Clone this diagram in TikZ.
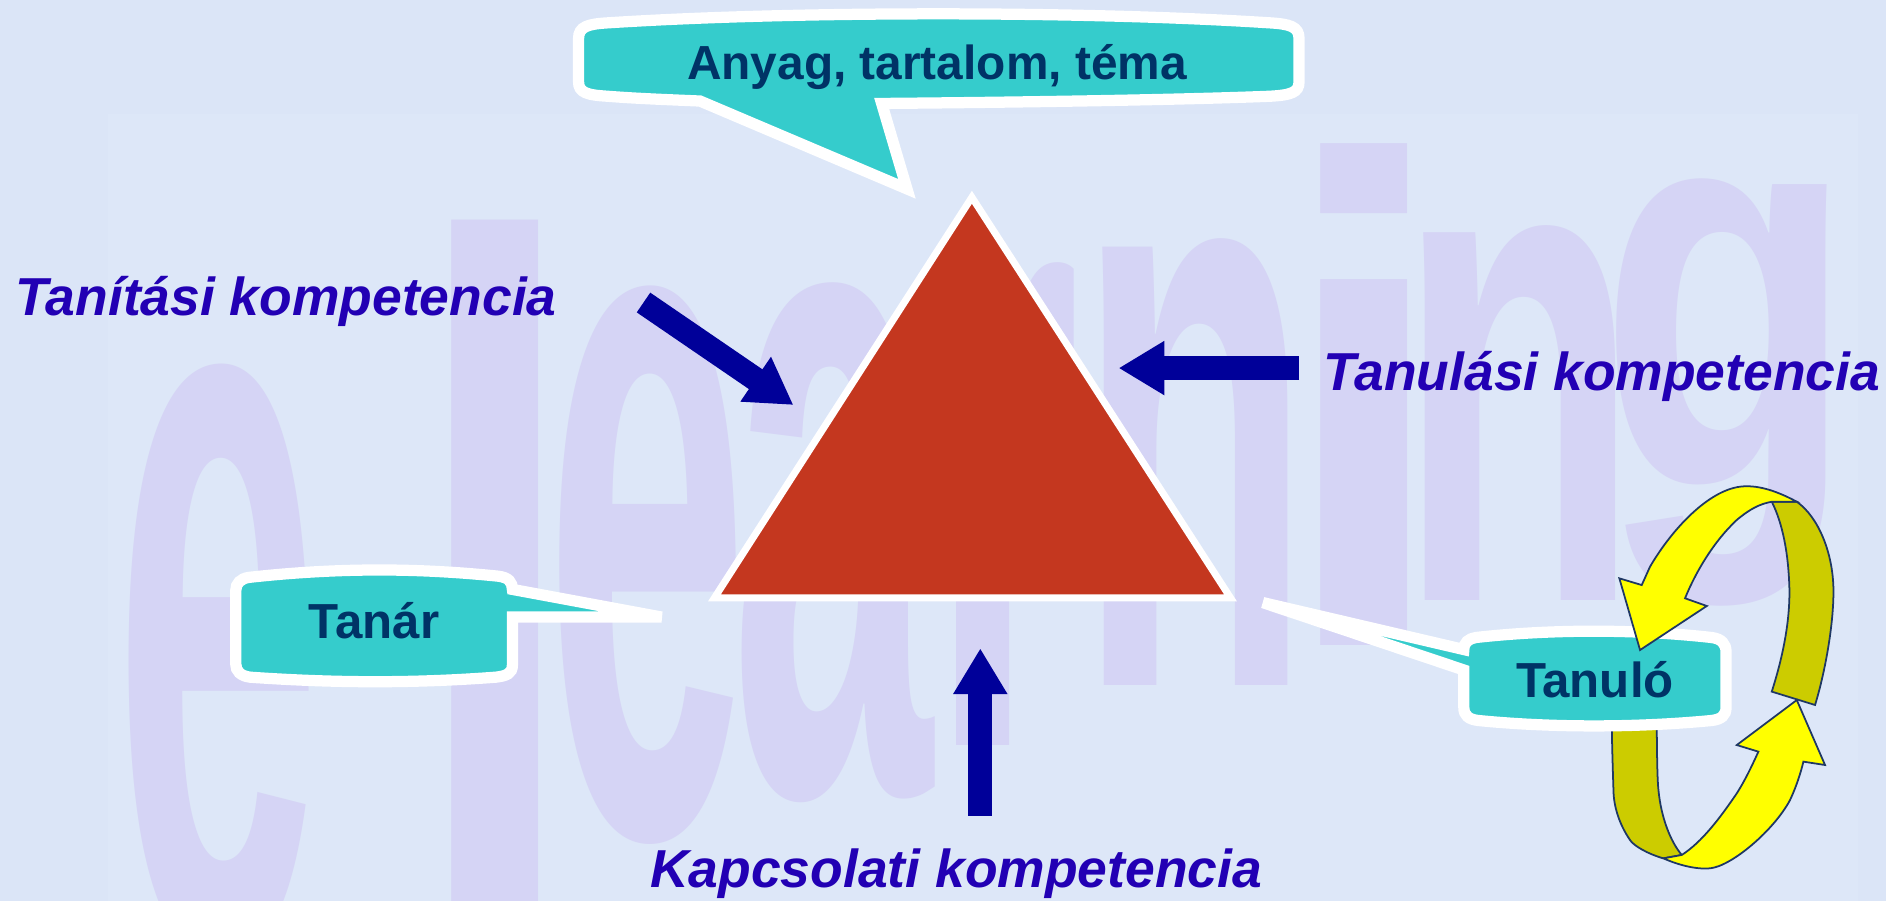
\documentclass[tikz,border=0pt]{standalone}
\usepackage{fontspec}
\setmainfont{Liberation Sans}
\usetikzlibrary{arrows.meta}

\definecolor{bgblue}{HTML}{DBE5F7}
\definecolor{bgpanel}{HTML}{DDE7F8}
\definecolor{wmlav}{HTML}{D5D4F5}
\definecolor{calloutteal}{HTML}{35CCCC}
\definecolor{calloutink}{HTML}{003366}
\definecolor{labelblue}{HTML}{2200B4}
\definecolor{arrownavy}{HTML}{000099}
\definecolor{trired}{HTML}{C4371F}
\definecolor{ringyellow}{HTML}{FFFF00}
\definecolor{ringolive}{HTML}{CCCC00}
\definecolor{ringline}{HTML}{1F3864}

\tikzset{
  callout/.style={fill=calloutteal, draw=white, line width=3.2pt},
  calltext/.style={font=\fontsize{14}{16}\selectfont\bfseries, text=calloutink, anchor=base, inner sep=0pt},
  complabel/.style={font=\fontsize{15.2}{18}\selectfont\bfseries\itshape, text=labelblue, anchor=base west, inner sep=0pt},
  blockarrow/.style={draw=arrownavy, line width=6.8pt, -{Triangle[width=14.5pt,length=13pt]}},
  ribbonfront/.style={fill=ringyellow, draw=ringline, line width=0.5pt},
  ribbonback/.style={fill=ringolive, draw=ringline, line width=0.5pt},
  wmark/.style={font=\fontsize{100}{100}\selectfont\bfseries, text=wmlav, anchor=base, inner sep=0pt}
}

\begin{document}
\begin{tikzpicture}[x=0.012028cm, y=-0.012028cm]
	% Background
	\fill[bgblue] (0,0) rectangle (1568,749);
	\useasboundingbox (0,0) rectangle (1568,749);
	\fill[bgpanel] (90,95) rectangle (1545,749);
	% Watermark
	\begin{scope}
	\clip (0,0) rectangle (1568,749);
	\foreach \ch/\cx/\by/\sx/\sy in {e/181/790/1.06/3.1, l/412/780/1.8/2.82, e/538/694/1.04/2.9, a/692/660/1.03/2.7, r/835/620/1.1/2.55, n/993/570/1.09/2.36, i/1134/537/1.8/1.97, n/1263/499/1.13/1.98, g/1436/404/1.19/1.62}
		\node[wmark] at (\cx,\by) {\scalebox{\sx}[\sy]{\ch}};
	\end{scope}
	% Triangle
	\draw[fill=trired, draw=white, line width=2pt] (808,164) -- (1023,497) -- (594,497) -- cycle;
	% Callouts
	\draw[callout] (481,32) -- (481,68) .. controls (481,77) and (488,79) .. (505,80)
		.. controls (530,82) and (560,83) .. (582,84) -- (754,157) -- (733,86)
		.. controls (850,85) and (980,83) .. (1056,80) .. controls (1073,79) and (1080,77) .. (1080,68)
		-- (1080,32) .. controls (1080,22) and (1072,20) .. (1056,19)
		.. controls (900,9) and (660,9) .. (505,19) .. controls (489,20) and (481,22) .. (481,32) -- cycle;
	\node[calltext, font=\fontsize{13.6}{16}\selectfont\bfseries] (anyag) at (779,66) {Anyag, tartalom, téma};
	\draw[callout] (207,480) .. controls (280,472) and (345,472) .. (414,479) .. controls (423,480) and (426,484) .. (426,490)
		-- (550,513) -- (426,513) -- (426,553) .. controls (426,560) and (421,562) .. (412,563)
		.. controls (345,568) and (280,568) .. (208,563) .. controls (200,562) and (196,558) .. (196,552)
		-- (196,491) .. controls (196,485) and (200,481) .. (207,480) -- cycle;
	\node[calltext] (tanar) at (311,531) {Tanár};
	% Arrows
	\coordinate (ta-tail) at (535,251.5);
	\coordinate (ta-tip) at (659.6,336.7);
	\coordinate (tu-tail) at (1080,306);
	\coordinate (tu-tip) at (930,306);
	\coordinate (ka-tail) at (815,678);
	\coordinate (ka-tip) at (815,539);
	\draw[blockarrow] (ta-tail) -- (ta-tip);
	\draw[blockarrow] (tu-tail) -- (tu-tip);
	\draw[blockarrow] (ka-tail) -- (ka-tip);
	% Ring, back left
	\filldraw[ribbonback] (1340,598) -- (1377.4,598) .. controls (1377.5,630) and (1378,650) .. (1378.8,656.8)
		.. controls (1381,680) and (1389,700) .. (1398.2,710.8) -- (1382.9,713.6)
		.. controls (1370,710) and (1358,703) .. (1355.2,698.4) .. controls (1346,685) and (1341.5,670) .. (1341.4,656.8)
		.. controls (1340.5,630) and (1340,610) .. (1340,598) -- cycle;
	% Tanulo callout
	\draw[callout] (1227,530) .. controls (1290,523) and (1360,523) .. (1423,530) .. controls (1431,531) and (1435,535) .. (1435,542)
		-- (1435,588) .. controls (1435,595) and (1431,598) .. (1423,599)
		.. controls (1360,605) and (1290,605) .. (1229,599) .. controls (1221,598) and (1217,595) .. (1217,588)
		-- (1217,557) -- (1050,501) -- (1217,540) .. controls (1217,534) and (1221,531) .. (1227,530) -- cycle;
	\node[calltext] (tanulo) at (1326,580) {Tanuló};
	% Ring, back right and front arrows
	\filldraw[ribbonback] (1473,417.1) -- (1493.8,417.1) .. controls (1512,430) and (1524,460) .. (1524.3,490.5)
		.. controls (1524.5,520) and (1517,560) .. (1509,586.1) -- (1473,575)
		.. controls (1481,550) and (1488,520) .. (1487.7,490.5) .. controls (1487,460) and (1482,435) .. (1473,417.1) -- cycle;
	\filldraw[ribbonfront] (1493.8,417.1) .. controls (1475,407) and (1460,403) .. (1446.7,404.6)
		.. controls (1420,408) and (1390,440) .. (1371.8,471.1) -- (1364.9,486.4) -- (1346.3,480.8) -- (1363.5,540.4)
		-- (1419,503.8) -- (1400.9,497.4) .. controls (1410,475) and (1425,450) .. (1443.9,432.3)
		.. controls (1455,423) and (1463,419) .. (1473,417.1) -- cycle;
	\filldraw[ribbonfront] (1382.9,713.6) .. controls (1395,719) and (1410,723) .. (1421.7,721.9)
		.. controls (1440,720) and (1475,690) .. (1488.2,665.1) .. controls (1493,655) and (1497,643) .. (1499.3,633.2)
		-- (1517.3,636) -- (1493.8,582) -- (1443.9,619.4) -- (1461.9,624.9)
		.. controls (1455,640) and (1450,650) .. (1443.9,659.6) .. controls (1430,680) and (1415,700) .. (1398.2,710.8) -- cycle;
	% Labels
	\node[complabel] (tanitas) at (12,262) {Tanítási kompetencia};
	\node[complabel] (tanulas) at (1100,325) {Tanulási kompetencia};
	\node[complabel] (kapcsolat) at (540,738) {Kapcsolati kompetencia};
\end{tikzpicture}
\end{document}
